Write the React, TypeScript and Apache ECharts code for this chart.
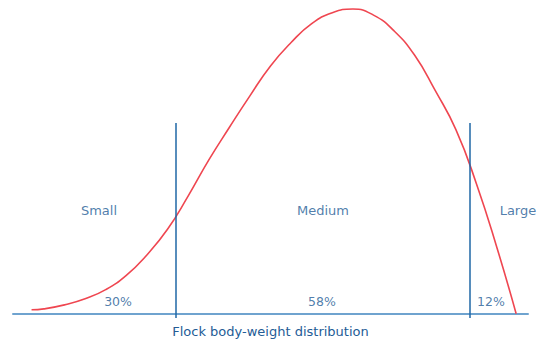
import React, { useEffect, useRef } from "react";
import * as echarts from "echarts";

// Body-weight index (0–100 across the flock range) and relative frequency (% of peak)
const weightIndex = [3.6, 6, 10, 14, 18, 22, 26, 30, 34, 38, 42, 46, 50, 54, 58, 62, 66, 70, 74, 78, 82, 86, 90, 94, 97.7];
const frequency = [1.3, 1.6, 2.9, 4.9, 7.9, 12.6, 19.3, 27.7, 38.6, 50.4, 61.1, 71.5, 81.3, 89.0, 95.2, 98.8, 100, 98.0, 92.8, 84.8, 73.2, 60.4, 42.6, 21.5, 0];

const sizeClasses = ["Small", "Medium", "Large"];
const classShares = ["30%", "58%", "12%"];
const classBoundaries = [31.65, 88.7];
const boundaryHeight = 62.6;
const axisTitle = "Flock body-weight distribution";

const TEXT = "#245c96";
const FONT = "DejaVu Sans";

export default function App() {
  const ref = useRef<HTMLDivElement>(null);
  useEffect(() => {
    if (!ref.current) return;
    const chart = echarts.init(ref.current, null, { renderer: "svg" });
    const nameX = [16.7, 60.2, 101.6];
    const nameAlign = ["center", "center", "right"];
    const shareX = [20.4, 60.0, 92.8];
    chart.setOption({
      animation: false,
      grid: { left: 13, right: 11, top: 9, bottom: 24.7 },
      xAxis: {
        type: "value",
        min: 0,
        max: 100,
        axisLine: { show: true, onZero: true, lineStyle: { color: "#6fa3cf", width: 2 } },
        axisTick: { show: false },
        axisLabel: { show: false },
        splitLine: { show: false },
        name: axisTitle,
        nameLocation: "middle",
        nameGap: 7,
        nameTextStyle: { color: TEXT, fontFamily: FONT, fontSize: 13, verticalAlign: "top" },
      },
      yAxis: {
        type: "value",
        min: -1.4,
        max: 100,
        show: false,
        splitLine: { show: false },
      },
      series: [
        {
          type: "line",
          data: weightIndex.map((x, i) => [x, frequency[i]]),
          smooth: 0.5,
          symbol: "none",
          clip: false,
          lineStyle: { color: "#ef4650", width: 1.6 },
          markLine: {
            silent: true,
            symbol: "none",
            label: { show: false },
            lineStyle: { color: "#1f67a6", width: 1.5, type: "solid" },
            data: classBoundaries.map((b) => [
              { coord: [b, boundaryHeight] },
              { coord: [b, -1.4] },
            ]),
          },
        },
        {
          type: "scatter",
          symbolSize: 0,
          silent: true,
          clip: false,
          data: sizeClasses.map((n, i) => ({
            value: [nameX[i], 33.8],
            name: n,
            label: { align: nameAlign[i] },
          })),
          label: {
            show: true,
            position: "inside",
            formatter: (p: any) => p.name,
            color: TEXT,
            fontFamily: FONT,
            fontSize: 13,
          },
        },
        {
          type: "scatter",
          symbolSize: 0,
          silent: true,
          data: classShares.map((s, i) => ({ value: [shareX[i], 3.9], name: s })),
          label: {
            show: true,
            position: "inside",
            formatter: (p: any) => p.name,
            color: TEXT,
            fontFamily: FONT,
            fontSize: 12.5,
          },
        },
      ],
    });
    return () => chart.dispose();
  }, []);
  return (
    <div
      ref={ref}
      style={{ position: "absolute", left: 0, top: 0, width: 539, height: 343, background: "#fff" }}
    />
  );
}
